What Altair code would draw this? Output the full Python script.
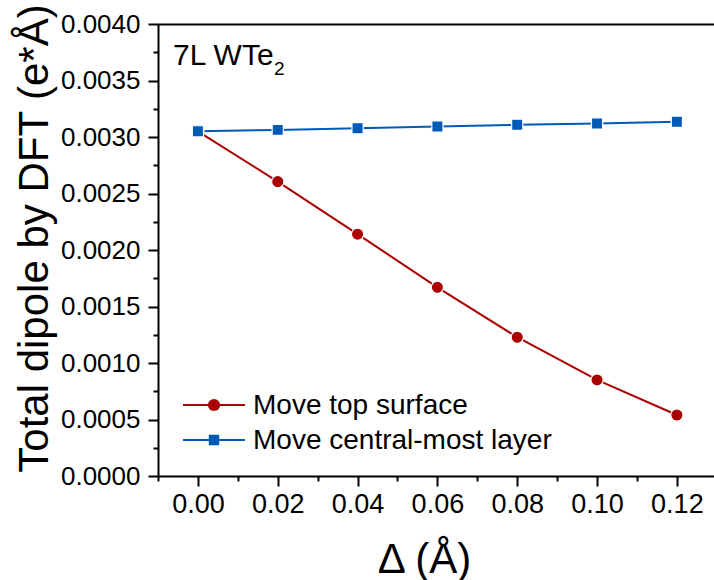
import altair as alt
import pandas as pd

# Displacement of the moved layer (Å)
delta = [0.00, 0.02, 0.04, 0.06, 0.08, 0.10, 0.12]

# Total dipole (e*Å) for the two ways of moving layers
top_surface = [0.00305, 0.002605, 0.00214, 0.00167, 0.001228, 0.00085, 0.00054]
central_layer = [0.00305, 0.003063, 0.003077, 0.003093, 0.003108, 0.00312, 0.003135]

series_names = ["Move top surface", "Move central-most layer"]
series_colors = ["#AA0000", "#005BB7"]
series_shapes = ["circle", "square"]

# Axis tick positions (major + minor)
x_ticks = [-0.01, 0.00, 0.01, 0.02, 0.03, 0.04, 0.05, 0.06, 0.07, 0.08, 0.09,
           0.10, 0.11, 0.12]
y_ticks = [0.0, 0.00025, 0.0005, 0.00075, 0.001, 0.00125, 0.0015, 0.00175,
           0.002, 0.00225, 0.0025, 0.00275, 0.003, 0.00325, 0.0035, 0.00375,
           0.004]

FONT = "Liberation Sans"

df = pd.DataFrame({
    "delta": delta + delta,
    "dipole": top_surface + central_layer,
    "series": [series_names[0]] * len(delta) + [series_names[1]] * len(delta),
})

xscale = alt.Scale(domain=[-0.01, 0.1293], nice=False, zero=False)
yscale = alt.Scale(domain=[0, 0.004], nice=False)
cscale = alt.Scale(domain=series_names, range=series_colors)

x_major = "round(datum.value * 100) % 2 == 0"
y_major = "round(datum.value * 4000) % 2 == 0"

x_axis = alt.Axis(
    values=x_ticks,
    labelExpr=f"{x_major} ? format(datum.value, '.2f') : ''",
    tickSize={"condition": {"test": x_major, "value": 10}, "value": 5},
    tickWidth=2, tickColor="black",
    domainWidth=2, domainColor="black",
    labelFont=FONT, labelFontSize=27, labelColor="black", labelPadding=5,
    labelFlush=False, labelOverlap=False,
    grid=False,
    title="Δ (Å)", titleFont=FONT, titleFontSize=42, titleFontWeight="normal",
    titleColor="black", titleX=266, titleY=96, titleAlign="center",
    titleBaseline="alphabetic",
)

y_axis = alt.Axis(
    values=y_ticks,
    labelExpr=f"{y_major} ? format(datum.value, '.4f') : ''",
    tickSize={"condition": {"test": y_major, "value": 10}, "value": 5},
    tickWidth=2, tickColor="black",
    domainWidth=2, domainColor="black",
    labelFont=FONT, labelFontSize=26, labelColor="black", labelPadding=8,
    labelFlush=False, labelOverlap=False,
    grid=False,
    title="Total dipole by DFT (e*Å)", titleFont=FONT, titleFontSize=42,
    titleFontWeight="normal", titleColor="black",
    titleX=-111, titleY=214, titleAngle=-90, titleAlign="center",
    titleBaseline="alphabetic",
)

base = alt.Chart(df)

lines = base.mark_line(strokeWidth=2).encode(
    x=alt.X("delta:Q", scale=xscale, axis=x_axis),
    y=alt.Y("dipole:Q", scale=yscale, axis=y_axis),
    color=alt.Color("series:N", scale=cscale, legend=None),
)


def series_points(i, size):
    return base.transform_filter(
        alt.datum.series == series_names[i]
    ).mark_point(filled=True, shape=series_shapes[i], size=size,
                 stroke="white", strokeWidth=1.2, opacity=1).encode(
        x=alt.X("delta:Q", scale=xscale, axis=None),
        y=alt.Y("dipole:Q", scale=yscale, axis=None),
        color=alt.Color("series:N", scale=cscale, legend=None),
    )


red_points = series_points(0, 150)
blue_points = series_points(1, 125)

# Top frame line
frame_top = base.transform_filter("false").mark_point().encode(
    x=alt.X("delta:Q", scale=xscale,
            axis=alt.Axis(orient="top", ticks=False, labels=False, grid=False,
                          domainWidth=2, domainColor="black", title=None)),
)

# Legend: a short line with the marker in the middle, then the label
legend_layers = []
for i, name in enumerate(series_names):
    row_y = 381 + 35 * i
    one = alt.Chart(alt.Data(values=[{}]))
    legend_layers.append(
        one.mark_rule(color=series_colors[i], strokeWidth=2).encode(
            x=alt.value(25), x2=alt.value(87), y=alt.value(row_y)))
    legend_layers.append(
        one.mark_point(filled=True, shape=series_shapes[i],
                       size=150 if i == 0 else 110, color=series_colors[i],
                       opacity=1).encode(x=alt.value(56), y=alt.value(row_y)))
    legend_layers.append(
        one.mark_text(font=FONT, fontSize=28, align="left", baseline="middle",
                      color="black").encode(
            x=alt.value(95), y=alt.value(row_y + 1), text=alt.value(name)))

label_main = alt.Chart(alt.Data(values=[{}])).mark_text(
    font=FONT, fontSize=30, align="left", baseline="alphabetic", color="black"
).encode(x=alt.value(15), y=alt.value(41), text=alt.value("7L WTe"))

label_sub = alt.Chart(alt.Data(values=[{}])).mark_text(
    font=FONT, fontSize=19, align="left", baseline="alphabetic", color="black"
).encode(x=alt.value(116), y=alt.value(51), text=alt.value("2"))

chart = alt.layer(
    lines, red_points, blue_points, frame_top, *legend_layers,
    label_main, label_sub
).resolve_axis(
    x="independent", y="independent"
).properties(
    width=556, height=452,
    autosize=alt.AutoSizeParams(type="none"),
    padding={"left": 158, "top": 24, "right": 0, "bottom": 104},
).configure_view(
    stroke=None
).configure(
    background="white"
)

chart.save("out.html", embed_options={"renderer": "svg", "actions": False})
